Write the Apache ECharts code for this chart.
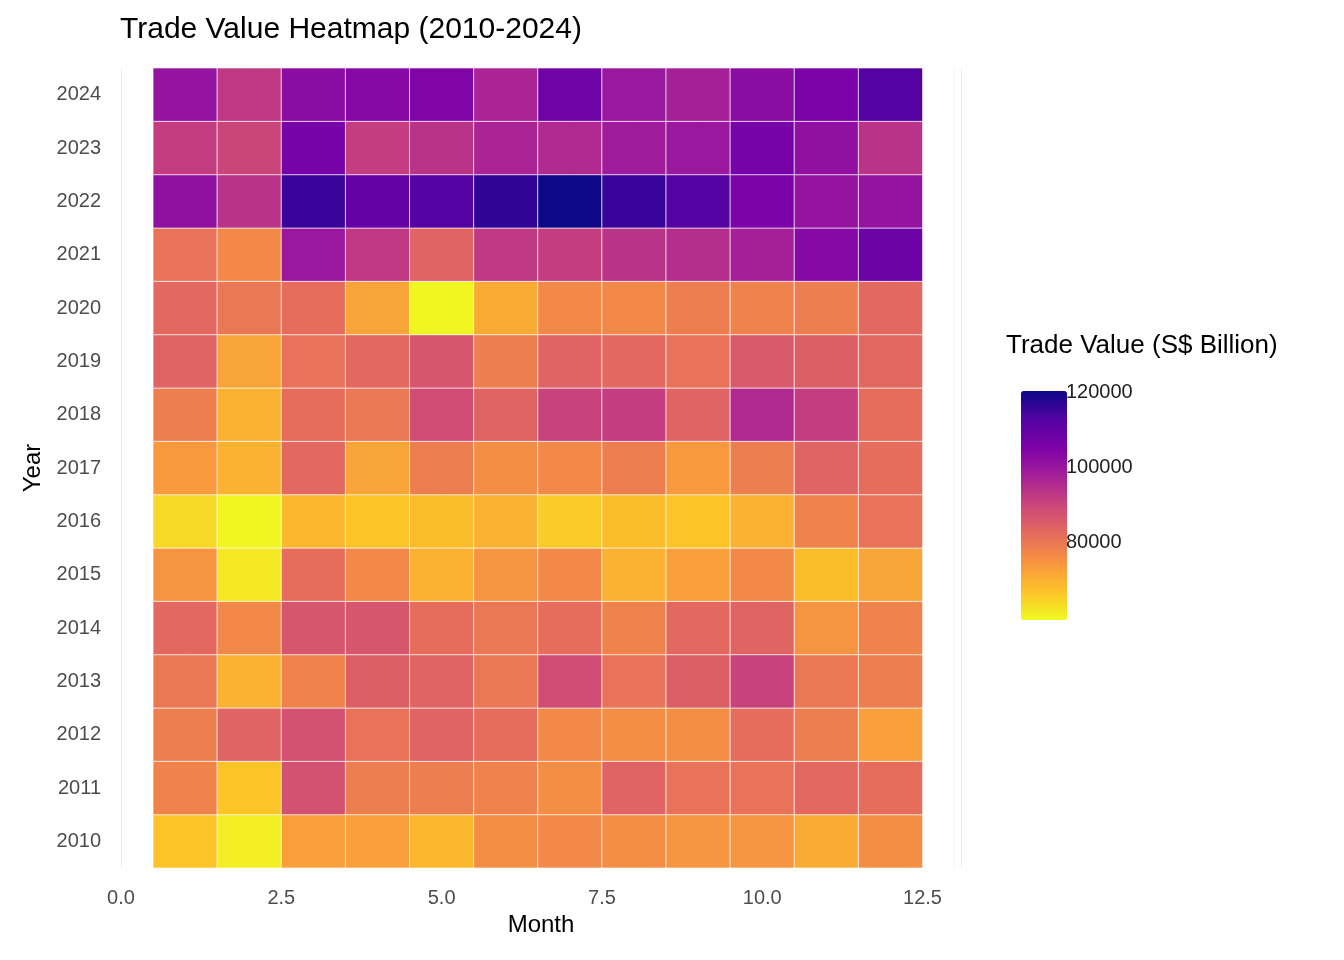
<!DOCTYPE html>
<html>
<head>
<meta charset="UTF-8">
<title>Trade Value Heatmap</title>
<script src="https://cdn.jsdelivr.net/npm/echarts@6/dist/echarts.min.js"></script>
<style>body{margin:0;background:#fff}</style>
</head>
<body>
<div id="chart" style="width:1344px;height:960px"></div>
<script>
// 年份（从下到上）
var years = ['2010','2011','2012','2013','2014','2015','2016','2017','2018','2019','2020','2021','2022','2023','2024'];
var months = [1,2,3,4,5,6,7,8,9,10,11,12];
// 每年 12 个月的贸易额
var v2010 = [71000,65000,77000,77000,73000,80000,81000,80000,79000,79000,75000,80000];
var v2011 = [82000,71000,92000,83000,83000,82000,80000,88000,85000,85000,87000,86000];
var v2012 = [83000,88000,92000,85000,88000,86000,81000,80000,80000,86000,83000,77000];
var v2013 = [84000,74000,82000,89000,88000,84000,93000,85000,89000,95000,84000,83000];
var v2014 = [87000,81000,91000,91000,86000,84000,86000,82000,87000,88000,79000,82000];
var v2015 = [79000,66000,86000,81000,74000,79000,81000,74000,77000,81000,72000,76000];
var v2016 = [68000,64000,73000,71000,72000,74000,70000,72000,71000,74000,82000,85000];
var v2017 = [78000,74000,87000,76000,83000,80000,81000,83000,78000,83000,88000,86000];
var v2018 = [83000,74000,86000,84000,93000,88000,95000,96000,88000,100000,96000,86000];
var v2019 = [88000,76000,85000,87000,91000,83000,88000,87000,85000,90000,89000,87000];
var v2020 = [87000,84000,86000,76000,64000,75000,81000,81000,83000,82000,83000,87000];
var v2021 = [85000,81000,104000,97000,88000,97000,96000,98000,99000,102000,108000,113000];
var v2022 = [106000,98000,120000,114000,117000,121000,124800,120000,117000,110000,105000,105000];
var v2023 = [96000,94500,111000,96000,98000,101000,100000,103000,104000,111000,106000,98000];
var v2024 = [105000,97000,107000,108000,109000,101000,112000,104000,102000,107000,110000,117000];
var rows = [v2010,v2011,v2012,v2013,v2014,v2015,v2016,v2017,v2018,v2019,v2020,v2021,v2022,v2023,v2024];
var legendTicks = [80000,100000,120000];
var vMin = 63400, vMax = 124800;

var data = [];
for (var i = 0; i < rows.length; i++) {
    for (var j = 0; j < months.length; j++) {
        data.push([months[j], i, rows[i][j]]);
    }
}

var chart = echarts.init(document.getElementById('chart'));
var font = 'Liberation Sans, Arial, sans-serif';
var barTop = 376, barH = 229;

var graphics = [{
    type: 'text', left: 1006, top: 333,
    style: {text: 'Trade Value (S$ Billion)', font: '26px ' + font, fill: '#000'}
}];
legendTicks.forEach(function (t) {
    var y = barTop + (vMax - t) / (vMax - vMin) * barH;
    graphics.push({type: 'text', left: 1066, top: y - 11, style: {text: String(t), font: '20px ' + font, fill: '#222'}});
    graphics.push({type: 'line', shape: {x1: 1006, y1: y, x2: 1016, y2: y}, style: {stroke: '#fff', lineWidth: 1}});
    graphics.push({type: 'line', shape: {x1: 1042, y1: y, x2: 1052, y2: y}, style: {stroke: '#fff', lineWidth: 1}});
});

chart.setOption({
    animation: false,
    textStyle: {fontFamily: font},
    title: {
        text: 'Trade Value Heatmap (2010-2024)', left: 115, top: 10,
        textStyle: {fontSize: 30, fontWeight: 'normal', color: '#000'}
    },
    grid: {left: 121, right: 383, top: 68, height: 800},
    xAxis: {
        type: 'value', min: 0, max: 13.1, interval: 2.5,
        name: 'Month', nameLocation: 'middle', nameGap: 45,
        nameTextStyle: {fontSize: 24, color: '#000'},
        axisLine: {show: false}, axisTick: {show: false},
        axisLabel: {fontSize: 20, color: '#4d4d4d', margin: 20,
            formatter: function (v) { return v.toFixed(1); },
            showMaxLabel: false},
        splitLine: {lineStyle: {color: '#ebebeb'}},
        minorTick: {show: false},
        minorSplitLine: {show: true, lineStyle: {color: '#f4f4f4'}}
    },
    yAxis: {
        type: 'category', data: years,
        name: 'Year', nameLocation: 'middle', nameGap: 75,
        nameTextStyle: {fontSize: 24, color: '#000'},
        axisLine: {show: false}, axisTick: {show: false},
        axisLabel: {fontSize: 20, color: '#4d4d4d', margin: 20},
        splitLine: {show: false}
    },
    visualMap: {
        type: 'continuous', min: vMin, max: vMax, dimension: 2,
        calculable: false, left: 1006, top: barTop,
        itemWidth: 46, itemHeight: barH, text: ['', ''],
        showLabel: false,
        inRange: {color: ['#f0f921','#fdc328','#f89540','#e56b5d','#cc4778','#a62098','#7e03a8','#5402a3','#0d0887']}
    },
    series: [{
        type: 'custom',
        data: data,
        encode: {x: 0, y: 1},
        renderItem: function (params, api) {
            var c = api.coord([api.value(0), api.value(1)]);
            var w = api.size([1, 1]);
            return {
                type: 'rect',
                shape: {x: c[0] - w[0] / 2, y: c[1] - w[1] / 2, width: w[0], height: w[1]},
                style: {fill: api.visual('color'), stroke: '#fff', lineWidth: 0.6}
            };
        }
    }],
    graphic: graphics
});
</script>
</body>
</html>
